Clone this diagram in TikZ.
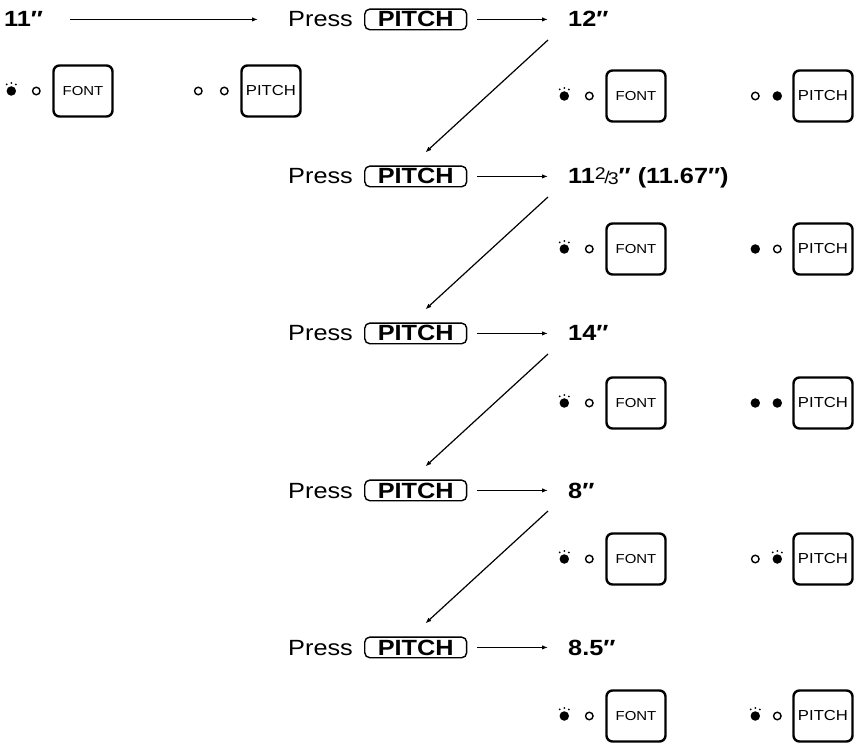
\documentclass[tikz,border=0pt]{standalone}
\usepackage{fontspec}
\setmainfont[FakeStretch=1.15]{Liberation Sans}
\usetikzlibrary{arrows.meta,positioning,calc}
\tikzset{
  presstxt/.style={font=\fontsize{22}{24}\selectfont,inner sep=0pt,anchor=base west},
  valtxt/.style={font=\bfseries\fontsize{22}{24}\selectfont,inner sep=0pt,anchor=base west},
  keycap/.style={draw,rounded corners=5pt,line width=1.4pt,inner xsep=13pt,
                 inner ysep=2.5pt,font=\bfseries\fontsize{22}{24}\selectfont},
  panelkey/.style={draw,rounded corners=6pt,line width=2.4pt,minimum width=59pt,
                   minimum height=51pt,inner sep=0pt},
  ledoff/.style={circle,draw,line width=1.4pt,minimum size=7.5pt,inner sep=0pt},
  ledon/.style={circle,fill,minimum size=9.5pt,inner sep=0pt},
  ledblink/.style={ledon},
  arrowthin/.style={-{Latex[length=6pt,width=4.5pt]},line width=1.2pt},
}
\newcommand{\twothirds}{{\mdseries\fontsize{17}{17}\selectfont\raisebox{.45ex}{2}\kern-1.5pt/\kern-2pt\raisebox{-.1ex}{3}}}

\begin{document}
\begin{tikzpicture}[x=1pt,y=-1pt]
  \useasboundingbox (0,0) rectangle (855,743);

  % press rows
  \foreach \r/\y in {0/19,1/176,2/333,3/490,4/647}{
    \node[presstxt] (pr\r) at (288,\y+8) {Press};
    \node[keycap,base right=11pt of pr\r] (key\r) {PITCH};
  }

  % values
  \node[valtxt] (v0) at (4,27) {11″};
  \node[valtxt] (v1) at (568,27) {12″};
  \node[valtxt] (v2) at (568,184) {11\twothirds″ (11.67″)};
  \node[valtxt] (v3) at (568,341) {14″};
  \node[valtxt] (v4) at (568,498) {8″};
  \node[valtxt] (v5) at (568,655) {8.5″};

  % arrows
  \draw[arrowthin,shorten <=27pt,shorten >=30pt] (v0.east |- key0) -- (pr0.west |- key0);
  \foreach \r/\v in {0/1,1/2,2/3,3/4,4/5}
    \draw[arrowthin,shorten <=10pt,shorten >=20pt] (key\r.east) -- (key\r.east -| v\v.west);
  \foreach \v/\r in {1/1,2/2,3/3,4/4}
    \draw[arrowthin] ([shift={(-20pt,-13pt)}]v\v.base west) -- ([shift={(-42pt,13pt)}]key\r.north east);

  % indicator panels
  \foreach \n/\fx/\px/\y/\la/\lb/\lc/\ld/\cs/\cp in {
      p0/83/271/91/ledblink/ledoff/ledoff/ledoff/-42/-16,
      p1/636/823/96/ledblink/ledoff/ledoff/ledon/-37/-15,
      p2/636/823/249/ledblink/ledoff/ledon/ledoff/-37/-15,
      p3/636/823/403/ledblink/ledoff/ledon/ledon/-37/-15,
      p4/636/823/559/ledblink/ledoff/ledoff/ledblink/-37/-15,
      p5/636/823/716/ledblink/ledoff/ledblink/ledoff/-37/-15}{
    \node[panelkey,font=\fontsize{13}{13}\selectfont] (\n font) at (\fx,\y) {FONT};
    \node[panelkey,font=\fontsize{14.5}{14.5}\selectfont] (\n pitch) at (\px,\y) {PITCH};
    \node[\la] (\n a) at ([xshift=-41pt]\n font.west) {};
    \node[\lb] (\n b) at ([xshift=-16pt]\n font.west) {};
    \node[\lc] (\n c) at ([xshift=\cs pt]\n pitch.west) {};
    \node[\ld] (\n d) at ([xshift=\cp pt]\n pitch.west) {};
  }

  % blinking marks
  \foreach \l in {p0a,p1a,p2a,p3a,p4a,p4d,p5a,p5c}
    \foreach \ang in {55,90,125}
      \fill (\l.center) ++(\ang:8pt) circle[radius=1pt];
\end{tikzpicture}
\end{document}
